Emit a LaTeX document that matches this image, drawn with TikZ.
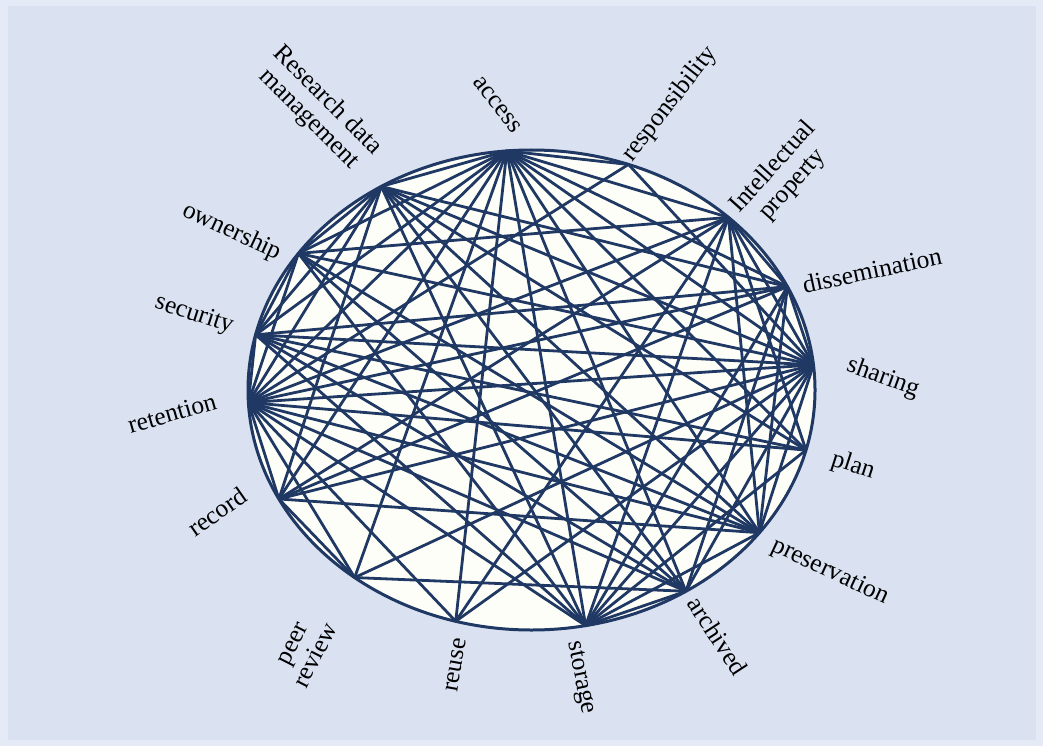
\documentclass[tikz,border=0pt]{standalone}
\usepackage{fontspec}
\setmainfont{Liberation Serif}
\usetikzlibrary{positioning}
\definecolor{navy}{HTML}{203864}
\definecolor{paper}{HTML}{DAE2F2}
\definecolor{inside}{HTML}{FEFEF8}
\tikzset{
  link/.style={draw=navy,line width=2.8pt},
  term/.style={font=\fontsize{25.5}{26}\selectfont,align=center,inner sep=0pt}
}
\begin{document}
\begin{tikzpicture}[x=1pt,y=-1pt]
  \useasboundingbox (0,0) rectangle (1043,746);
  \fill[paper!70!white] (0,0) rectangle (1043,746);
  \fill[paper] (8,6) rectangle (1036,740);
  \filldraw[fill=inside,draw=navy,line width=3pt] (531.5,390) ellipse [x radius=283.5,y radius=240];
  % points on the ring
  \foreach \name/\t in {access/95,resp/70,ip/46,dissem/25.5,sharing/6,plan/-14.5,
      preserv/-36.5,archived/-57,storage/-79,reuse/-105.5,peer/-128.6,record/-153,
      retention/-177,security/166.7,ownership/145.3,rdm/122}
    \coordinate (\name) at ({531.5+283.5*cos(\t)},{390-240*sin(\t)});
  % links
  \foreach \a/\b in {access/rdm,access/ownership,access/security,access/retention,
      access/record,access/peer,access/reuse,access/storage,access/archived,
      access/preserv,access/plan,access/sharing,access/dissem,access/ip,access/resp,
      rdm/ownership,rdm/security,rdm/retention,rdm/record,rdm/sharing,rdm/plan,
      rdm/preserv,rdm/archived,rdm/storage,rdm/dissem,
      ownership/security,ownership/retention,ownership/ip,ownership/sharing,
      ownership/preserv,ownership/storage,ownership/archived,
      security/retention,security/sharing,security/dissem,security/preserv,
      security/archived,security/storage,security/plan,
      retention/record,retention/peer,retention/sharing,retention/plan,
      retention/preserv,retention/archived,retention/storage,retention/reuse,
      retention/dissem,retention/ip,retention/resp,
      record/peer,record/sharing,record/preserv,record/ip,record/dissem,
      peer/sharing,peer/archived,reuse/ip,reuse/sharing,
      storage/sharing,storage/dissem,storage/ip,storage/preserv,storage/archived,storage/plan,
      archived/sharing,archived/dissem,preserv/sharing,preserv/ip,preserv/dissem,
      plan/ip,sharing/resp,sharing/ip,sharing/dissem,dissem/ip}
    \draw[link] (\a) -- (\b);
  % labels
  \node[term,rotate=-52] (laccess) at (497,105) {access};
  \node[term,rotate=52] (lresp) at (670,104) {responsibility};
  \node[term,rotate=48] (lip) at (783,176) {Intellectual\\property};
  \node[term,rotate=12] (ldissem) at (872,270) {dissemination};
  \node[term,rotate=-20] (lsharing) at (883,378) {sharing};
  \node[term,rotate=-18] (lplan) at (853,466) {plan};
  \node[term,rotate=-25] (lpreserv) at (830,572) {preservation};
  \node[term,rotate=-57] (larchived) at (718,636) {archived};
  \node[term,rotate=-78] (lstorage) at (580,678) {storage};
  \node[term,rotate=80] (lreuse) at (456,665) {reuse};
  \node[term,rotate=63] (lpeer) at (305,650) {peer\\review};
  \node[term,rotate=35] (lrecord) at (217,512) {record};
  \node[term,rotate=16] (lretention) at (172,413) {retention};
  \node[term,rotate=-18] (lsecurity) at (194,315) {security};
  \node[term,rotate=-25] (lownership) at (232,232) {ownership};
  \node[term,rotate=-45] (lrdm) at (318,110) {Research data\\management};
\end{tikzpicture}
\end{document}
